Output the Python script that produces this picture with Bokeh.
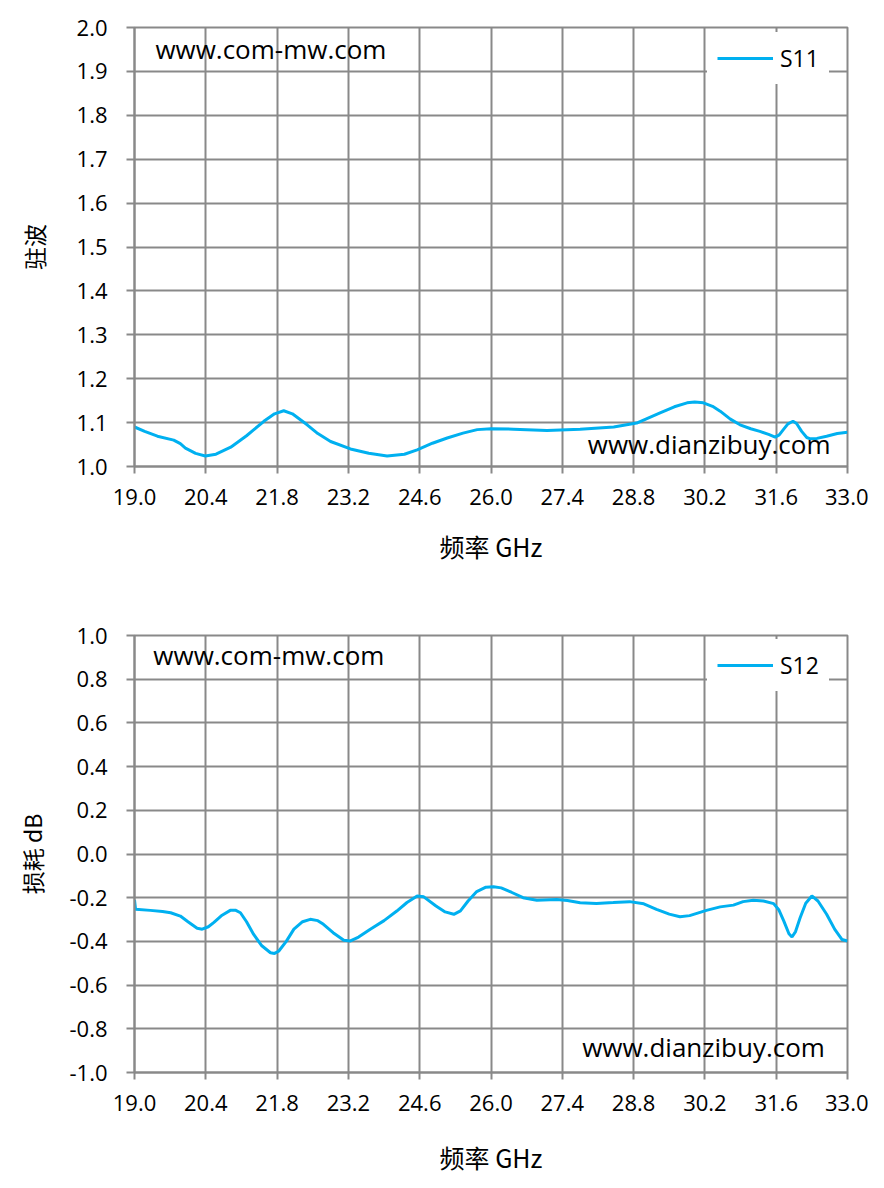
from bokeh.plotting import figure
from bokeh.layouts import column
from bokeh.models import Range1d, FixedTicker, Label
from bokeh.embed import file_html
from bokeh.resources import INLINE

# ---------------- data ----------------
freq_ticks = [19.0, 20.4, 21.8, 23.2, 24.6, 26.0, 27.4, 28.8, 30.2, 31.6, 33.0]
freq_tick_labels = ["19.0", "20.4", "21.8", "23.2", "24.6", "26.0", "27.4", "28.8", "30.2", "31.6", "33.0"]

vswr_ticks = [1.0, 1.1, 1.2, 1.3, 1.4, 1.5, 1.6, 1.7, 1.8, 1.9, 2.0]
vswr_tick_labels = ["1.0", "1.1", "1.2", "1.3", "1.4", "1.5", "1.6", "1.7", "1.8", "1.9", "2.0"]

loss_ticks = [-1.0, -0.8, -0.6, -0.4, -0.2, 0.0, 0.2, 0.4, 0.6, 0.8, 1.0]
loss_tick_labels = ["-1.0", "-0.8", "-0.6", "-0.4", "-0.2", "0.0", "0.2", "0.4", "0.6", "0.8", "1.0"]

s11_freq = [19.0, 19.2, 19.45, 19.77, 19.9, 20.0, 20.2, 20.39, 20.6, 20.89, 21.2, 21.54, 21.75,
            21.93, 22.1, 22.39, 22.6, 22.85, 23.24, 23.6, 23.96, 24.3, 24.55, 24.85, 25.14, 25.45,
            25.73, 26.0, 26.44, 27.10, 27.75, 28.41, 28.86, 29.32, 29.6, 29.85, 30.0, 30.17, 30.35,
            30.5, 30.7, 30.89, 31.1, 31.28, 31.45, 31.58, 31.66, 31.74, 31.83, 31.93, 32.0, 32.10,
            32.2, 32.27, 32.4, 32.59, 32.8, 33.0]
s11_vswr = [1.090, 1.080, 1.069, 1.060, 1.052, 1.042, 1.030, 1.024, 1.028, 1.044, 1.070, 1.103, 1.120,
            1.127, 1.120, 1.095, 1.075, 1.057, 1.040, 1.030, 1.024, 1.028, 1.038, 1.053, 1.065, 1.076,
            1.084, 1.086, 1.085, 1.082, 1.085, 1.090, 1.099, 1.122, 1.136, 1.145, 1.147, 1.145, 1.137,
            1.126, 1.108, 1.095, 1.086, 1.080, 1.073, 1.067, 1.072, 1.084, 1.097, 1.103, 1.098, 1.080,
            1.066, 1.063, 1.064, 1.069, 1.075, 1.078]

s12_freq = [19.0, 19.02, 19.31, 19.55, 19.71, 19.9, 20.05, 20.23, 20.33, 20.45, 20.56, 20.72,
            20.88, 20.98, 21.08, 21.2, 21.34, 21.5, 21.67, 21.75, 21.83, 21.98, 22.13, 22.3,
            22.45, 22.6, 22.71, 22.9, 23.11, 23.24, 23.4, 23.63, 23.9, 24.15, 24.35, 24.55,
            24.68, 24.92, 25.1, 25.27, 25.4, 25.55, 25.72, 25.9, 26.05, 26.2, 26.4, 26.63,
            26.9, 27.29, 27.5, 27.75, 28.07, 28.4, 28.72, 29.0, 29.25, 29.5, 29.71, 29.9,
            30.23, 30.5, 30.76, 30.95, 31.15, 31.35, 31.55, 31.65, 31.75, 31.85, 31.91, 31.98,
            32.07, 32.18, 32.30, 32.42, 32.59, 32.75, 32.89, 33.0]
s12_loss = [-0.210, -0.253, -0.258, -0.263, -0.269, -0.284, -0.310, -0.340, -0.344, -0.333, -0.313, -0.280,
            -0.258, -0.257, -0.269, -0.310, -0.368, -0.420, -0.452, -0.455, -0.445, -0.400, -0.344, -0.310,
            -0.299, -0.305, -0.322, -0.360, -0.395, -0.398, -0.380, -0.344, -0.305, -0.261, -0.222, -0.192,
            -0.196, -0.238, -0.265, -0.276, -0.260, -0.215, -0.172, -0.152, -0.150, -0.155, -0.175, -0.200,
            -0.212, -0.208, -0.213, -0.223, -0.226, -0.222, -0.218, -0.228, -0.253, -0.275, -0.287, -0.282,
            -0.258, -0.242, -0.234, -0.218, -0.212, -0.215, -0.227, -0.255, -0.307, -0.365, -0.380, -0.355,
            -0.292, -0.225, -0.192, -0.215, -0.276, -0.345, -0.391, -0.398]

# ---------------- style ----------------
GRID = "#898989"
LINE = "#00B0F0"
TICK_FONT = "Open Sans"
CJK_FONT = "Noto Sans CJK SC"


def make_fig(height, top, bottom, y_rng, yticks, ylabels, ylabel, ylabel_standoff, xlabel_standoff):
    p = figure(width=868, height=height, output_backend="svg", toolbar_location=None,
               x_range=Range1d(19.0, 33.0), y_range=Range1d(*y_rng),
               min_border_left=134, min_border_right=21, min_border_top=top, min_border_bottom=bottom)
    p.background_fill_color = "white"
    p.border_fill_color = "white"
    p.outline_line_color = GRID
    p.outline_line_width = 2

    p.xaxis.ticker = FixedTicker(ticks=freq_ticks)
    p.xaxis.major_label_overrides = {t: l for t, l in zip(freq_ticks, freq_tick_labels)}
    p.yaxis.ticker = FixedTicker(ticks=yticks)
    p.yaxis.major_label_overrides = {t: l for t, l in zip(yticks, ylabels)}

    for ax in (p.xaxis[0], p.yaxis[0]):
        ax.axis_line_color = GRID
        ax.axis_line_width = 2
        ax.major_tick_line_color = GRID
        ax.major_tick_line_width = 2
        ax.major_tick_in = 0
        ax.minor_tick_line_color = None
        ax.major_label_text_font = TICK_FONT
        ax.major_label_text_font_size = "22px"
        ax.major_label_text_color = "black"
        ax.axis_label_text_font = CJK_FONT
        ax.axis_label_text_font_style = "normal"
        ax.axis_label_text_color = "black"
    p.xaxis.axis_label_text_font_size = "25px"
    p.yaxis.axis_label_text_font_size = "23px"
    p.xaxis.major_tick_out = 7
    p.yaxis.major_tick_out = 8
    p.xaxis.major_label_standoff = 15
    p.yaxis.major_label_standoff = 19
    p.xaxis.axis_label = "频率 GHz"
    p.xaxis.axis_label_standoff = xlabel_standoff
    p.yaxis.axis_label = ylabel
    p.yaxis.axis_label_standoff = ylabel_standoff

    p.grid.grid_line_color = GRID
    p.grid.grid_line_width = 2
    p.grid.grid_line_alpha = 1.0
    return p


def style_legend(p, loc):
    lg = p.legend[0]
    lg.location = loc
    lg.border_line_color = "white"
    lg.border_line_width = 1
    lg.background_fill_color = "white"
    lg.background_fill_alpha = 1.0
    lg.padding = 9
    lg.margin = 0
    lg.spacing = 0
    lg.glyph_width = 56
    lg.glyph_height = 24
    lg.label_standoff = 7
    lg.label_height = 24
    lg.label_text_font = TICK_FONT
    lg.label_text_font_size = "23px"
    lg.label_text_color = "black"


# ---------------- top chart: VSWR ----------------
p1 = make_fig(600, 27, 134, (1.0, 2.0), vswr_ticks, vswr_tick_labels, "驻波", 23, 20)
p1.line(s11_freq, s11_vswr, line_color=LINE, line_width=3, legend_label="S11")
style_legend(p1, (573, 382))
p1.add_layout(Label(x=19.41, y=1.95, text="www.com-mw.com", text_font=TICK_FONT,
                    text_font_size="26px", text_color="black", text_baseline="alphabetic"))
p1.add_layout(Label(x=27.9, y=1.052, text="www.dianzibuy.com", text_font=TICK_FONT,
                    text_font_size="26px", text_color="black", text_baseline="alphabetic"))

# ---------------- bottom chart: insertion loss ----------------
p2 = make_fig(580, 35, 108, (-1.0, 1.0), loss_ticks, loss_tick_labels, "损耗 dB", 17, 25)
p2.line(s12_freq, s12_loss, line_color=LINE, line_width=3, legend_label="S12")
style_legend(p2, (573, 381))
p2.add_layout(Label(x=19.37, y=0.909, text="www.com-mw.com", text_font=TICK_FONT,
                    text_font_size="26px", text_color="black", text_baseline="alphabetic"))
p2.add_layout(Label(x=27.79, y=-0.884, text="www.dianzibuy.com", text_font=TICK_FONT,
                    text_font_size="26px", text_color="black", text_baseline="alphabetic"))

layout = column(p1, p2)
open("out.html", "w").write(file_html(layout, INLINE))
